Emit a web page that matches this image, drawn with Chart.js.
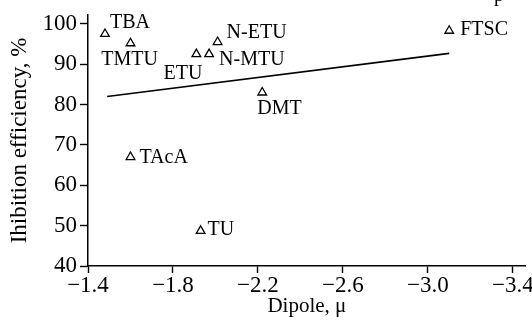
<!DOCTYPE html>
<html>
<head>
<meta charset="utf-8">
<script src="https://cdn.jsdelivr.net/npm/chart.js@4/dist/chart.umd.min.js"></script>
<style>
  html, body { margin: 0; padding: 0; background: #fff; }
  #wrap { width: 532px; height: 324px; position: relative; }
</style>
</head>
<body>
<div id="wrap"><canvas id="chart"></canvas></div>
<script>
// compounds, dipole moment vs inhibition efficiency
const compounds = ['TBA', 'TMTU', 'ETU', 'N-MTU', 'N-ETU', 'DMT', 'FTSC', 'TAcA', 'TU'];
const dipole = [-1.48, -1.60, -1.91, -1.97, -2.01, -2.22, -3.10, -1.60, -1.93];
const efficiency = [97.5, 95.2, 92.5, 92.5, 95.5, 83, 98.3, 67, 48.7];

// fitted trend line (two end points)
const trendDipole = [-1.49, -3.10];
const trendEfficiency = [82, 92.7];

const xTicks = [-1.4, -1.8, -2.2, -2.6, -3.0, -3.4];
const yTicks = [40, 50, 60, 70, 80, 90, 100];

const serif = 'Liberation Serif, "Times New Roman", serif';

// where each label sits relative to its marker
const labelPlace = {
  'TBA':   { dx: 5,  dy: -11,  align: 'left' },
  'TMTU':  { dx: -1, dy: 16.5, align: 'center' },
  'ETU':   { dx: 6,  dy: 19.5, align: 'right' },
  'N-MTU': { dx: 10, dy: 5.5,  align: 'left' },
  'N-ETU': { dx: 9,  dy: -9,   align: 'left' },
  'DMT':   { dx: -5, dy: 16.5, align: 'left' },
  'FTSC':  { dx: 11, dy: -0.5, align: 'left' },
  'TAcA':  { dx: 9,  dy: 0.5,  align: 'left' },
  'TU':    { dx: 7,  dy: -1.5, align: 'left' }
};

const pointLabels = {
  id: 'pointLabels',
  afterDatasetsDraw(chart) {
    const ctx = chart.ctx;
    const xs = chart.scales.x, ys = chart.scales.y;
    ctx.save();
    ctx.font = '20px ' + serif;
    ctx.fillStyle = '#000';
    ctx.textBaseline = 'middle';
    compounds.forEach((name, i) => {
      const p = labelPlace[name];
      ctx.textAlign = p.align;
      ctx.fillText(name, xs.getPixelForValue(dipole[i]) + p.dx, ys.getPixelForValue(efficiency[i]) + p.dy);
    });
    // remains of the cut-off caption at the top edge
    ctx.textAlign = 'left';
    ctx.textBaseline = 'alphabetic';
    ctx.fillText('p', 494, 1);
    ctx.restore();
  }
};

const minus = v => (v < 0 ? '\u2212' : '') + Math.abs(v).toFixed(1);

new Chart(document.getElementById('chart'), {
  type: 'scatter',
  data: {
    datasets: [
      {
        data: dipole.map((d, i) => ({ x: d, y: efficiency[i] })),
        pointStyle: 'triangle',
        pointRadius: 5,
        pointBorderWidth: 1.3,
        borderColor: '#000',
        backgroundColor: 'rgba(0,0,0,0)'
      },
      {
        type: 'line',
        data: trendDipole.map((d, i) => ({ x: d, y: trendEfficiency[i] })),
        borderColor: '#000',
        borderWidth: 1.6,
        pointRadius: 0,
        fill: false
      }
    ]
  },
  options: {
    responsive: true,
    maintainAspectRatio: false,
    animation: false,
    layout: { padding: { top: 15, right: 0, left: 0, bottom: 0 } },
    plugins: { legend: { display: false }, tooltip: { enabled: false } },
    scales: {
      x: {
        type: 'linear',
        reverse: true,
        min: -3.46,
        max: -1.4,
        afterBuildTicks: s => { s.ticks = xTicks.map(v => ({ value: v })); },
        afterFit: s => { s.height = 58; s.paddingLeft = 0; s.paddingRight = 0; },
        grid: { drawOnChartArea: false, drawTicks: true, tickLength: 7, tickWidth: 1.4, color: '#000' },
        border: { display: true, color: '#000', width: 1.5 },
        ticks: {
          color: '#000',
          font: { family: serif, size: 23 },
          padding: -1,
          maxRotation: 0,
          autoSkip: false,
          callback: v => minus(v)
        },
        title: {
          display: true,
          text: 'Dipole, \u03bc',
          color: '#000',
          font: { family: serif, size: 21 },
          padding: { top: 0, bottom: 5 }
        }
      },
      y: {
        type: 'linear',
        min: 40,
        max: 102.2,
        afterBuildTicks: s => { s.ticks = yTicks.map(v => ({ value: v })); },
        afterFit: s => { s.width = 88; s.paddingTop = 0; s.paddingBottom = 0; },
        grid: { drawOnChartArea: false, drawTicks: true, tickLength: 8, tickWidth: 1.4, color: '#000' },
        border: { display: true, color: '#000', width: 1.5 },
        ticks: {
          color: '#000',
          font: { family: serif, size: 23 },
          padding: 3,
          autoSkip: false
        },
        title: {
          display: true,
          text: 'Ihibition efficiency, %',
          color: '#000',
          font: { family: serif, size: 23 },
          padding: { top: 6, bottom: 0 }
        }
      }
    }
  },
  plugins: [pointLabels]
});
</script>
</body>
</html>
